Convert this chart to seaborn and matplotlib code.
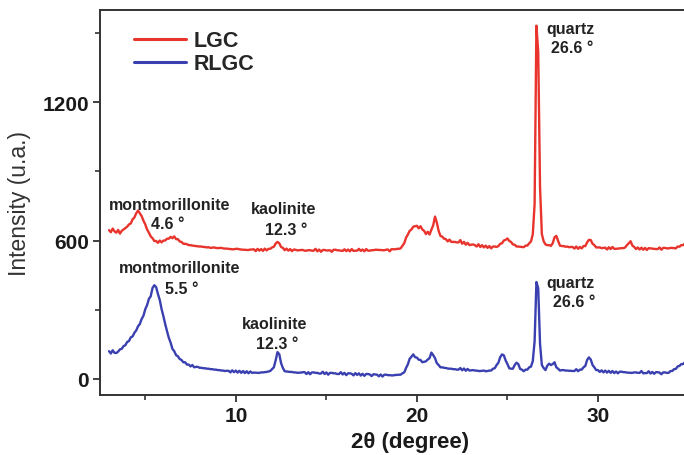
import numpy as np
import pandas as pd
import matplotlib
matplotlib.use("Agg")
import matplotlib.pyplot as plt
import seaborn as sns
from matplotlib.ticker import MultipleLocator

# === Data: XRD patterns, 2theta step 0.1 from 3.0 to 34.8 ===
two_theta_start = 3.0
two_theta_step = 0.1

lgc_intensity = [
    645, 636, 652, 640, 634, 646, 630, 642, 648, 654,    # 3.x
    660, 670, 674, 692, 700, 718, 730, 718, 706, 686,    # 4.x
    670, 648, 634, 618, 610, 598, 598, 590, 600, 592,    # 5.x
    600, 600, 608, 608, 616, 610, 618, 606, 606, 596,    # 6.x
    594, 586, 586, 584, 580, 580, 578, 577, 576, 575,    # 7.x
    574, 574, 572, 572, 570, 571, 568, 569, 570, 568,    # 8.x
    567, 568, 568, 566, 565, 565, 564, 563, 562, 562,    # 9.x
    564, 564, 562, 561, 560, 560, 559, 559, 561, 561,    # 10.x
    562, 554, 564, 556, 563, 555, 565, 557, 564, 564,    # 11.x
    570, 573, 587, 594, 588, 572, 568, 558, 565, 556,    # 12.x
    563, 554, 561, 560, 557, 558, 559, 559, 556, 556,    # 13.x
    558, 558, 556, 556, 564, 553, 561, 551, 559, 559,    # 14.x
    557, 557, 558, 551, 560, 560, 558, 557, 556, 555,    # 15.x
    562, 554, 561, 553, 563, 555, 556, 556, 564, 555,    # 16.x
    561, 553, 563, 556, 556, 558, 558, 560, 560, 559,    # 17.x
    559, 558, 558, 560, 561, 553, 563, 562, 562, 564,    # 18.x
    564, 566, 577, 588, 612, 626, 642, 648, 660, 662,    # 19.x
    664, 653, 662, 648, 642, 628, 638, 626, 647, 666,    # 20.x
    704, 678, 642, 620, 617, 608, 606, 596, 604, 594,    # 21.x
    594, 594, 592, 592, 602, 586, 594, 582, 590, 580,    # 22.x
    582, 583, 580, 574, 584, 572, 580, 570, 578, 568,    # 23.x
    576, 566, 574, 574, 572, 576, 586, 588, 600, 603,    # 24.x
    609, 598, 594, 583, 582, 574, 574, 573, 572, 571,    # 25.x
    578, 578, 588, 596, 627, 758, 1532, 1418, 832, 628,  # 26.x
    597, 583, 580, 580, 577, 588, 614, 620, 598, 578,    # 27.x
    576, 576, 573, 574, 571, 572, 572, 565, 574, 564,    # 28.x
    572, 566, 576, 576, 592, 603, 602, 586, 580, 570,    # 29.x
    570, 570, 567, 568, 569, 561, 571, 563, 572, 564,    # 30.x
    564, 565, 566, 567, 567, 570, 580, 588, 597, 578,    # 31.x
    572, 563, 570, 561, 569, 560, 568, 559, 567, 566,    # 32.x
    565, 564, 563, 563, 570, 560, 568, 568, 566, 566,    # 33.x
    568, 568, 567, 566, 574, 573, 580, 580, 587,         # 34.0-34.8
]

rlgc_intensity = [
    120, 110, 124, 113, 112, 118, 128, 130, 142, 146,    # 3.x
    160, 164, 180, 184, 200, 210, 228, 238, 260, 274,    # 4.x
    302, 320, 347, 358, 394, 406, 398, 368, 342, 303,    # 5.x
    272, 238, 207, 178, 157, 130, 120, 103, 98, 86,      # 6.x
    82, 72, 72, 62, 62, 54, 60, 50, 52, 52,              # 7.x
    48, 48, 46, 46, 44, 44, 42, 42, 40, 40,              # 8.x
    38, 38, 36, 36, 34, 35, 35, 28, 37, 29,              # 9.x
    36, 27, 35, 26, 34, 25, 33, 24, 32, 26,              # 10.x
    27, 27, 26, 26, 28, 28, 29, 30, 32, 34,              # 11.x
    42, 50, 80, 116, 107, 68, 47, 33, 32, 31,            # 12.x
    30, 30, 28, 28, 26, 27, 27, 29, 29, 21,              # 13.x
    29, 20, 28, 28, 26, 26, 23, 23, 31, 21,              # 14.x
    28, 18, 26, 26, 24, 24, 21, 21, 29, 19,              # 15.x
    26, 16, 24, 24, 22, 15, 25, 17, 24, 14,              # 16.x
    22, 13, 21, 21, 19, 12, 20, 19, 18, 11,              # 17.x
    19, 10, 18, 18, 16, 16, 15, 15, 17, 17,              # 18.x
    18, 18, 24, 28, 47, 63, 87, 96, 106, 94,             # 19.x
    92, 83, 82, 72, 74, 76, 84, 90, 114, 103,            # 20.x
    90, 68, 60, 50, 50, 48, 47, 45, 44, 44,              # 21.x
    42, 42, 40, 40, 47, 37, 45, 35, 43, 36,              # 22.x
    37, 38, 36, 36, 34, 34, 35, 36, 33, 34,              # 23.x
    36, 36, 44, 46, 60, 70, 94, 106, 102, 80,            # 24.x
    64, 46, 44, 44, 60, 70, 64, 43, 40, 33,              # 25.x
    40, 40, 50, 53, 77, 163, 420, 393, 152, 60,          # 26.x
    47, 38, 57, 66, 60, 64, 72, 50, 44, 36,              # 27.x
    38, 38, 36, 36, 35, 35, 34, 34, 42, 33,              # 28.x
    40, 40, 50, 56, 82, 93, 84, 60, 50, 38,              # 29.x
    38, 30, 37, 28, 36, 27, 35, 26, 34, 25,              # 30.x
    32, 24, 31, 31, 29, 29, 27, 27, 26, 26,              # 31.x
    28, 28, 26, 26, 34, 24, 25, 25, 33, 23,              # 32.x
    30, 22, 29, 29, 27, 20, 28, 28, 26, 26,              # 33.x
    34, 34, 42, 43, 54, 56, 64, 64, 72,                  # 34.0-34.8
]

series_names = ["LGC", "RLGC"]
series_colors = ["#e8342c", "#3a40b0"]

# peak labels: (text, x, y) in data units
peak_labels = [
    ("montmorillonite", 6.35, 758), ("4.6 °", 6.25, 672),
    ("kaolinite", 12.65, 737), ("12.3 °", 12.8, 650),
    ("montmorillonite", 6.9, 485), ("5.5 °", 7.0, 390),
    ("kaolinite", 12.15, 238), ("12.3 °", 12.3, 152),
    ("quartz", 28.5, 1521), ("26.6 °", 28.6, 1438),
    ("quartz", 28.5, 420), ("26.6 °", 28.7, 334),
]

# === Build long table ===
n = len(lgc_intensity)
two_theta = np.round(two_theta_start + two_theta_step * np.arange(n), 1)
df = pd.concat([
    pd.DataFrame({"two_theta": two_theta, "intensity": lgc_intensity, "sample": "LGC"}),
    pd.DataFrame({"two_theta": two_theta, "intensity": rlgc_intensity, "sample": "RLGC"}),
])

# === Plot ===
sns.set_style("ticks")
plt.rcParams["font.family"] = ["Liberation Sans", "DejaVu Sans"]

fig = plt.figure(figsize=(6.84, 4.56), dpi=100)
ax = fig.add_axes([0.1462, 0.1316, 0.8538, 0.8443])

sns.lineplot(data=df, x="two_theta", y="intensity", hue="sample",
             hue_order=series_names, palette=series_colors,
             estimator=None, sort=False, linewidth=1.7, ax=ax)

ax.set_xlim(2.5, 34.75)
ax.set_ylim(-70, 1600)
ax.xaxis.set_major_locator(MultipleLocator(10))
ax.xaxis.set_minor_locator(MultipleLocator(5))
ax.yaxis.set_major_locator(MultipleLocator(600))
ax.yaxis.set_minor_locator(MultipleLocator(300))

ax.tick_params(which="major", direction="out", length=5, width=1.3,
               color="#333333", labelsize=15, pad=3)
ax.tick_params(which="minor", direction="out", length=3.5, width=1.2,
               color="#333333")
for lbl in ax.get_xticklabels() + ax.get_yticklabels():
    lbl.set_fontweight("bold")
    lbl.set_color("#1a1a1a")

ax.spines["right"].set_visible(False)
for side in ["left", "bottom", "top"]:
    ax.spines[side].set_linewidth(1.4)
    ax.spines[side].set_color("#333333")

ax.set_xlabel("2θ (degree)", fontsize=16, fontweight="bold", color="#1a1a1a")
ax.set_ylabel("Intensity (u.a.)", fontsize=16.5, color="#333333")
# original axes run past the crop on the right, so the x label sits off-centre
ax.xaxis.set_label_coords(0.531, -0.094)
ax.yaxis.set_label_coords(-0.118, 0.5)

for text, x, y in peak_labels:
    ax.text(x, y, text, ha="center", va="center", fontsize=11.5,
            fontweight="bold", color="#222222")

leg = ax.legend(loc="upper left", bbox_to_anchor=(0.025, 0.998), frameon=False,
                handlelength=2.4, handletextpad=0.35, labelspacing=0.1,
                prop={"size": 15.5, "weight": "bold"})
for line in leg.get_lines():
    line.set_linewidth(2.2)

fig.savefig("out.png", dpi=100)
